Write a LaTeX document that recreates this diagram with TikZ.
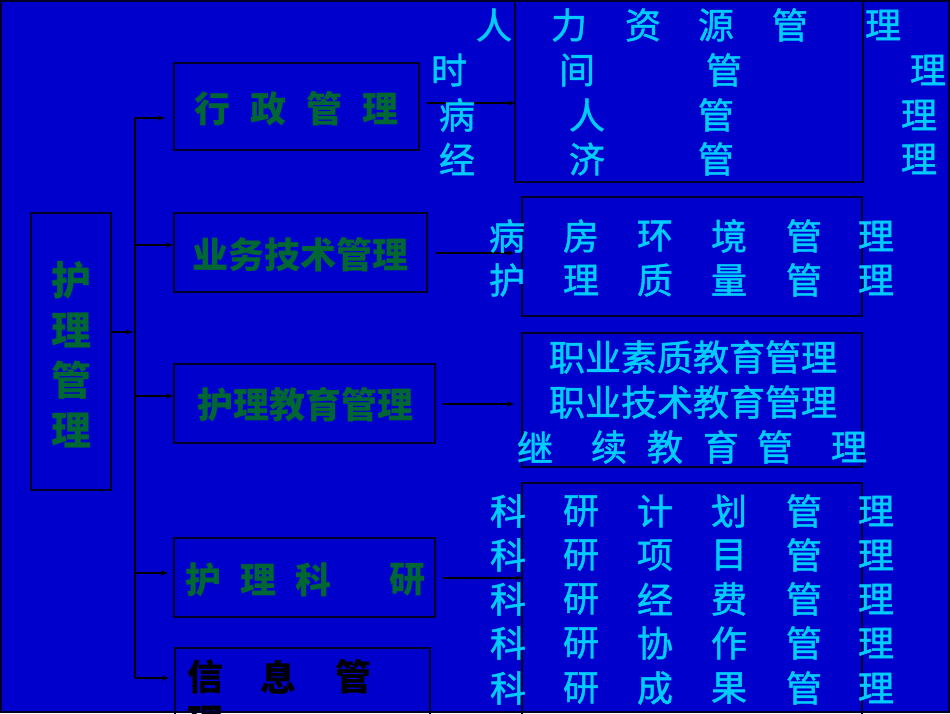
\documentclass[tikz,border=0pt]{standalone}
\usepackage{fontspec}
\newfontfamily\cjk{Noto Sans CJK SC}
\newfontfamily\cjkc[FakeBold=1.3]{Noto Sans CJK SC}
\usetikzlibrary{arrows.meta}
\definecolor{bg}{RGB}{0,0,204}
\definecolor{gtxt}{RGB}{0,102,51}
\definecolor{ctxt}{RGB}{0,204,255}
\definecolor{edge}{RGB}{0,0,40}
\tikzset{
  box/.style={draw=edge, line width=1.5pt, inner sep=0pt, outer sep=0pt},
  gt/.style={text=gtxt, font=\cjk\bfseries\fontsize{36}{36}\selectfont, inner sep=0pt},
  lt/.style={text=gtxt, font=\cjk\bfseries\fontsize{40}{40}\selectfont, inner sep=0pt},
  kt/.style={text=black, font=\cjk\bfseries\fontsize{36}{36}\selectfont, inner sep=0pt},
  ct/.style={text=ctxt, font=\cjkc\fontsize{36}{36}\selectfont, inner sep=0pt},
  arr/.style={draw=black, line width=1.2pt, -{Stealth[length=7pt,width=5pt]}},
  bus/.style={draw=black, line width=1.2pt}
}
\begin{document}
\begin{tikzpicture}[x=1pt,y=-1pt]
\useasboundingbox (0,0) rectangle (950,713);
\fill[bg] (0,0) rectangle (950,713);

% left box
\node[box, minimum width=80, minimum height=277] (L) at (71,351.5) {};
\foreach \c/\y [count=\i] in {护/280,理/330,管/380,理/430}
  \node[lt] (lt\i) at (71,\y) {\c};

% middle boxes
\node[box, minimum width=245, minimum height=87] (g1) at (296.5,106.5) {};
\node[gt] (g1t) at (296.5,109) {行\hspace{20pt}政\hspace{20pt}管\hspace{20pt}理};
\node[box, minimum width=253, minimum height=79] (g2) at (300.5,252.5) {};
\node[gt] (g2t) at (300.5,255) {业务技术管理};
\node[box, minimum width=261, minimum height=79] (g3) at (304.5,403.5) {};
\node[gt] (g3t) at (305,405) {护理教育管理};
\node[box, minimum width=261, minimum height=79] (g4) at (304.5,577.5) {};
\foreach \c/\x [count=\i] in {护/203,理/258,科/313,研/407}
  \node[gt] (g4t\i) at (\x,580) {\c};
\node[box, minimum width=255, minimum height=100] (g5) at (302.5,698) {};
\foreach \c/\x [count=\i] in {信/205,息/278,管/353}
  \node[kt] (g5t\i) at (\x,677) {\c};
\node[kt] (g5t4) at (205,722) {理};

% right boxes
\node[box, minimum width=348, minimum height=183] (b1) at (689,90.5) {};
\node[box, minimum width=340, minimum height=119] (b2) at (692,256.5) {};
\node[box, minimum width=340, minimum height=134] (b3) at (692,400) {};
\node[box, minimum width=340, minimum height=250] (b4) at (692,608) {};

% bus and branches
\coordinate (busT) at (135,118);
\coordinate (busB) at (135,678);
\coordinate (j) at (135,332);
\draw[bus] (busT) -- (busB);
\draw[arr, shorten >=2pt] (L.east |- j) -- (j);
\draw[arr, shorten >=9pt] (busT) -- (busT -| g1.west);
\draw[arr, shorten >=1pt] (busT |- 0,245) -- (g2.west |- 0,245);
\draw[arr, shorten >=1pt] (busT |- 0,396) -- (g3.west |- 0,396);
\draw[arr, shorten >=6pt] (busT |- 0,573) -- (g4.west |- 0,573);
\draw[arr, shorten >=6pt] (busB) -- (busB -| g5.west);

% right connectors
\draw[arr] ([xshift=8pt]g1.east |- 0,103) -- (b1.west |- 0,103);
\draw[arr, shorten >=8pt] ([xshift=9pt]g2.east |- 0,253) -- (b2.west |- 0,253);
\draw[arr, shorten >=8pt] ([xshift=8pt]g3.east |- 0,404) -- (b3.west |- 0,404);
\draw[arr] ([xshift=8pt]g4.east |- 0,578) -- (b4.west |- 0,578);

% box 1 texts
\foreach \c/\x [count=\i] in {人/494,力/569,资/643,源/716,管/790,理/883}
  \node[ct] (ra\i) at (\x,25) {\c};
\foreach \c/\x [count=\i] in {时/449,间/577,管/724,理/928}
  \node[ct] (rb\i) at (\x,70) {\c};
\foreach \c/\x [count=\i] in {病/457,人/587,管/716,理/919}
  \node[ct] (rc\i) at (\x,115) {\c};
\foreach \c/\x [count=\i] in {经/457,济/587,管/716,理/919}
  \node[ct] (rd\i) at (\x,159) {\c};

% box 2 texts
\foreach \c/\x [count=\i] in {病/507,房/581,环/655,境/729,管/804,理/876}
  \node[ct] (re\i) at (\x,236) {\c};
\foreach \c/\x [count=\i] in {护/507,理/581,质/655,量/729,管/804,理/876}
  \node[ct] (rf\i) at (\x,280) {\c};

% box 3 texts
\node[ct] (rg) at (693,357) {职业素质教育管理};
\node[ct] (rh) at (693,402) {职业技术教育管理};
\foreach \c/\x [count=\i] in {继/535,续/609,教/665,育/721,管/775,理/849}
  \node[ct] (ri\i) at (\x,447) {\c};

% box 4 texts
\foreach \a/\b/\y [count=\k] in {计/划/511,项/目/555,经/费/599,协/作/643,成/果/688}{
  \node[ct] (s\k a) at (508,\y) {科};
  \node[ct] (s\k b) at (581,\y) {研};
  \node[ct] (s\k c) at (655,\y) {\a};
  \node[ct] (s\k d) at (729,\y) {\b};
  \node[ct] (s\k e) at (804,\y) {管};
  \node[ct] (s\k f) at (876,\y) {理};
}

% slide frame
\draw[edge, line width=2pt] (1,1) rectangle (949,712);
\end{tikzpicture}
\end{document}
